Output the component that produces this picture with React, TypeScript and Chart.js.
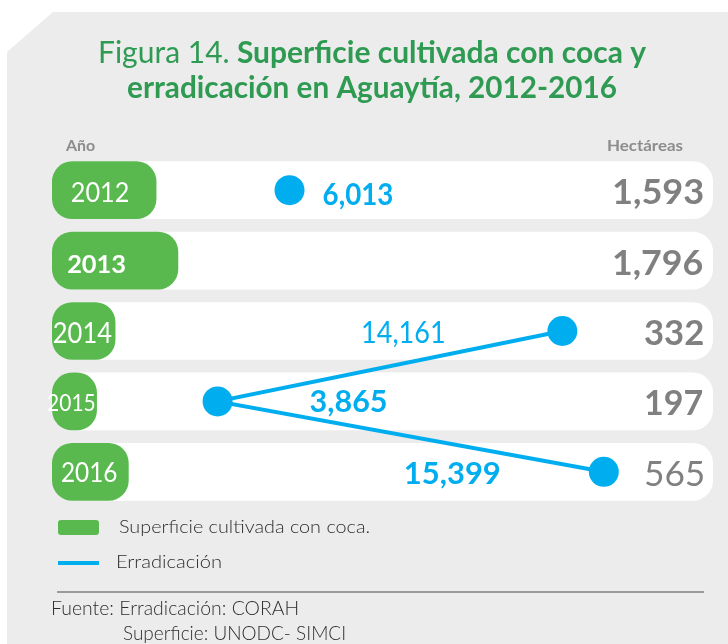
import React, { useEffect, useRef } from "react";
import { Chart, registerables } from "chart.js";

Chart.register(...registerables);

// ---------- data ----------
const anios = ["2012", "2013", "2014", "2015", "2016"];
const hectareas = [1593, 1796, 332, 197, 565];
const erradicacion: (number | null)[] = [6013, null, 14161, 3865, 15399];
// length of the green year tabs, in % of the row width
const largoPestana = [15.8, 19.1, 9.6, 6.8, 11.6];
const filaCompleta = [100, 100, 100, 100, 100];

const serieSuperficie = "Superficie cultivada con coca.";
const serieErradicacion = "Erradicación";
const tituloA = "Figura 14.";
const tituloB = " Superficie cultivada con coca y";
const tituloC = "erradicación en Aguaytía, 2012-2016";
const encabezadoIzq = "Año";
const encabezadoDer = "Hectáreas";
const fuente1 = "Fuente: Erradicación: CORAH";
const fuente2 = "Superficie: UNODC- SIMCI";

// ---------- styles ----------
const VERDE = "#59b94f";
const AZUL = "#00aeef";
const GRIS_FONDO = "#ececec";
const GRIS_TEXTO = "#808080";
const VERDE_TITULO = "#2e9a52";
const OSCURO = "#2e2e2e";
const FONT = "Lato, 'Open Sans', sans-serif";

const estiloAnio = [
  { size: 27, weight: 400, w: 57, dx: -4, dy: 12 },
  { size: 24, weight: 700, w: 58, dx: -19, dy: 12 },
  { size: 28, weight: 400, w: 58, dx: -1, dy: 12 },
  { size: 24, weight: 400, w: 47, dx: -3, dy: 10 },
  { size: 27, weight: 400, w: 55, dx: -1, dy: 10 },
];
const estiloHa = [
  { weight: 700, w: 89 },
  { weight: 700, w: 89 },
  { weight: 700, w: 58 },
  { weight: 700, w: 57 },
  { weight: 400, w: 58 },
];
const estiloEtiqueta: ({ dx: number; dy: number; align: "left" | "center"; weight: number; w: number } | null)[] = [
  { dx: 34, dy: 15, align: "left", weight: 700, w: 69 },
  null,
  { dx: -159, dy: 12, align: "center", weight: 400, w: 81 },
  { dx: 131, dy: 11, align: "center", weight: 700, w: 76 },
  { dx: -151, dy: 12, align: "center", weight: 700, w: 94 },
];

const fmt = (n: number) => n.toLocaleString("en-US");

function txt(
  ctx: CanvasRenderingContext2D,
  s: string,
  x: number,
  y: number,
  font: string,
  color: string,
  align: "left" | "right" | "center",
  w?: number
) {
  ctx.save();
  ctx.font = font;
  ctx.fillStyle = color;
  ctx.textBaseline = "alphabetic";
  ctx.textAlign = "left";
  const mt = ctx.measureText(s);
  const left = -(mt.actualBoundingBoxLeft || 0);
  const m = (mt.actualBoundingBoxRight || mt.width) - left;
  const sx = w ? w / m : 1;
  const x0 = align === "left" ? x : align === "right" ? x - m * sx : x - (m * sx) / 2;
  ctx.translate(x0, y);
  ctx.scale(sx, 1);
  ctx.fillText(s, -left, 0);
  ctx.restore();
}

const decor = {
  id: "decor",
  beforeDraw(chart: any) {
    const ctx: CanvasRenderingContext2D = chart.ctx;
    ctx.save();
    ctx.fillStyle = "#ffffff";
    ctx.fillRect(0, 0, chart.width, chart.height);
    ctx.fillStyle = GRIS_FONDO;
    ctx.beginPath();
    ctx.moveTo(53, 12);
    ctx.lineTo(chart.width, 12);
    ctx.lineTo(chart.width, chart.height);
    ctx.lineTo(7, chart.height);
    ctx.lineTo(7, 52);
    ctx.closePath();
    ctx.fill();

    // title
    const fA = `400 31px ${FONT}`;
    const fB = `700 31px ${FONT}`;
    ctx.font = fA;
    const wA = ctx.measureText(tituloA).width;
    ctx.font = fB;
    const wB = ctx.measureText(tituloB).width;
    const k = 548 / (wA + wB);
    ctx.save();
    ctx.translate(98, 63);
    ctx.scale(k, 1);
    ctx.fillStyle = VERDE_TITULO;
    ctx.textBaseline = "alphabetic";
    ctx.font = fA;
    ctx.fillText(tituloA, 0, 0);
    ctx.font = fB;
    ctx.fillText(tituloB, wA, 0);
    ctx.restore();
    txt(ctx, tituloC, 128, 98, fB, VERDE_TITULO, "left", 488);

    // headers
    txt(ctx, encabezadoIzq, 65, 151, `700 16px ${FONT}`, "#8c8c8c", "left", 30);
    txt(ctx, encabezadoDer, 683, 151, `700 16px ${FONT}`, "#8c8c8c", "right", 75);

    // legend
    const ds = chart.data.datasets;
    ctx.fillStyle = VERDE;
    ctx.beginPath();
    (ctx as any).roundRect(58, 520, 41, 15, 3);
    ctx.fill();
    txt(ctx, ds[1].label, 119, 533, `300 17px ${FONT}`, OSCURO, "left", 250);
    ctx.fillStyle = AZUL;
    ctx.fillRect(58, 561, 41, 4);
    txt(ctx, ds[2].label, 117, 568, `300 18px ${FONT}`, OSCURO, "left", 104);

    // separator + source
    ctx.strokeStyle = "#9b9b9b";
    ctx.lineWidth = 2;
    ctx.beginPath();
    ctx.moveTo(57, 592);
    ctx.lineTo(704, 592);
    ctx.stroke();
    txt(ctx, fuente1, 53, 615, `300 20px ${FONT}`, OSCURO, "left", 245);
    txt(ctx, fuente2, 123, 640, `300 20px ${FONT}`, OSCURO, "left", 222);
    ctx.restore();
  },
  afterDatasetsDraw(chart: any) {
    const ctx: CanvasRenderingContext2D = chart.ctx;
    const labels: string[] = chart.data.labels;
    const tabs = chart.getDatasetMeta(1).data;
    const rows = chart.getDatasetMeta(0).data;
    const pts = chart.getDatasetMeta(2).data;
    labels.forEach((lab, i) => {
      const t = tabs[i];
      const st = estiloAnio[i];
      txt(ctx, lab, (t.x + t.base) / 2 + st.dx, t.y + st.dy, `${st.weight} ${st.size}px ${FONT}`, "#ffffff", "center", st.w);
      const r = rows[i];
      const h = estiloHa[i];
      txt(ctx, fmt(hectareas[i]), r.x - 10, r.y + 14, `${h.weight} 35px ${FONT}`, GRIS_TEXTO, "right", h.w);
      const v = erradicacion[i];
      const e = estiloEtiqueta[i];
      if (v != null && e) {
        const p = pts[i];
        txt(ctx, fmt(v), p.x + e.dx, p.y + e.dy, `${e.weight} 31px ${FONT}`, AZUL, e.align, e.w);
      }
    });
  },
};

export default function App() {
  const ref = useRef<HTMLCanvasElement>(null);
  useEffect(() => {
    if (!ref.current) return;
    const chart = new Chart(ref.current, {
      type: "bar",
      data: {
        labels: anios,
        datasets: [
          {
            label: "fila",
            data: filaCompleta,
            backgroundColor: "#ffffff",
            borderRadius: 20,
            borderSkipped: false,
            grouped: false,
            order: 3,
            xAxisID: "x",
          } as any,
          {
            label: serieSuperficie,
            data: largoPestana,
            backgroundColor: VERDE,
            borderRadius: 20,
            borderSkipped: false,
            grouped: false,
            order: 2,
            xAxisID: "x",
          } as any,
          {
            type: "line",
            label: serieErradicacion,
            data: erradicacion,
            indexAxis: "y",
            xAxisID: "x2",
            borderColor: AZUL,
            backgroundColor: AZUL,
            borderWidth: 4,
            pointRadius: 15,
            pointBackgroundColor: AZUL,
            pointBorderWidth: 0,
            spanGaps: false,
            fill: false,
            order: 1,
            clip: false,
          } as any,
        ],
      },
      options: {
        indexAxis: "y",
        animation: false,
        responsive: false,
        layout: { padding: { left: 52, right: 11, top: 155, bottom: 137 } },
        datasets: { bar: { categoryPercentage: 1, barPercentage: 0.82 } } as any,
        scales: {
          x: { type: "linear", min: 0, max: 100, display: false },
          x2: { type: "linear", min: -1080, max: 18660, display: false },
          y: { type: "category", display: false, offset: true },
        },
        plugins: { legend: { display: false }, tooltip: { enabled: false } },
      },
      plugins: [decor],
    });
    return () => chart.destroy();
  }, []);
  return (
    <div style={{ position: "absolute", left: 0, top: 0, width: 728, height: 644 }}>
      <canvas ref={ref} width={728} height={644} />
    </div>
  );
}
